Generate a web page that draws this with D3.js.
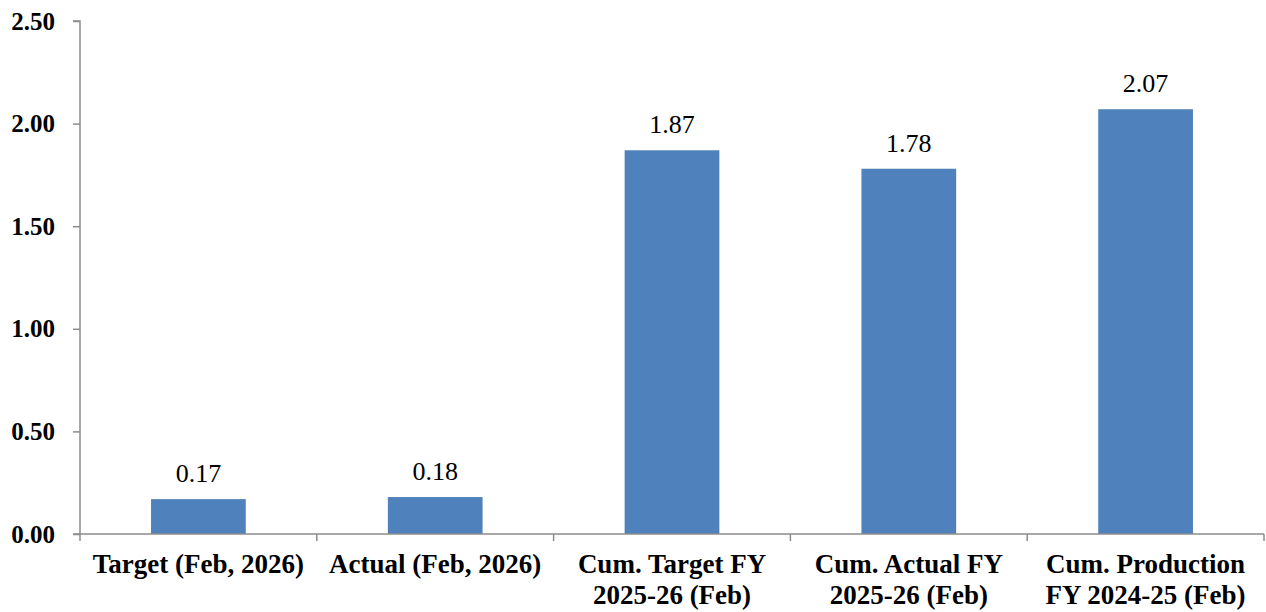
<!DOCTYPE html>
<html>
<head>
<meta charset="utf-8">
<script src="https://cdn.jsdelivr.net/npm/d3@7"></script>
<style>
  body { margin: 0; background: #fff; }
  svg { display: block; }
</style>
</head>
<body>
<div id="chart"></div>
<script>
// chart values
var categories = [
  ["Target (Feb, 2026)"],
  ["Actual (Feb, 2026)"],
  ["Cum. Target FY", "2025-26 (Feb)"],
  ["Cum. Actual FY", "2025-26 (Feb)"],
  ["Cum. Production", "FY 2024-25 (Feb)"]
];
var values = [0.17, 0.18, 1.87, 1.78, 2.07];
var yTicks = [0, 0.5, 1.0, 1.5, 2.0, 2.5];

var svgWidth = 1266, svgHeight = 612;
var margin = { top: 21, right: 2, bottom: 78, left: 80 };
var width = svgWidth - margin.left - margin.right;
var height = svgHeight - margin.top - margin.bottom;

var font = "Liberation Serif";
var axisColor = "#8c8c8c";

var svg = d3.select("#chart").append("svg")
  .attr("width", svgWidth)
  .attr("height", svgHeight)
  .attr("font-family", font);

var g = svg.append("g")
  .attr("transform", "translate(" + margin.left + "," + margin.top + ")");

var x = d3.scaleBand()
  .domain(d3.range(categories.length))
  .range([0, width])
  .paddingInner(0.6)
  .paddingOuter(0.3);

var y = d3.scaleLinear().domain([0, 2.5]).range([height, 0]);

// bars
g.selectAll("rect.bar")
  .data(values)
  .enter().append("rect")
  .attr("class", "bar")
  .attr("x", function(d, i) { return x(i); })
  .attr("y", function(d) { return y(d); })
  .attr("width", x.bandwidth())
  .attr("height", function(d) { return height - y(d); })
  .attr("fill", "#4F81BD");

// value labels
g.selectAll("text.val")
  .data(values)
  .enter().append("text")
  .attr("class", "val")
  .attr("x", function(d, i) { return x(i) + x.bandwidth() / 2; })
  .attr("y", function(d) { return y(d) - 17; })
  .attr("text-anchor", "middle")
  .attr("font-family", font)
  .attr("font-size", 26)
  .text(function(d) { return d.toFixed(2); });

// y axis
var yAxis = g.append("g")
  .call(d3.axisLeft(y).tickValues(yTicks).tickSize(7).tickPadding(18)
    .tickFormat(d3.format(".2f")))
  .attr("font-family", font);
yAxis.select(".domain").attr("stroke", axisColor).attr("stroke-width", 1.5)
  .attr("d", "M-7," + height + "H0V0H-7");
yAxis.selectAll(".tick line").attr("stroke", axisColor).attr("stroke-width", 1.5);
yAxis.selectAll(".tick text")
  .attr("fill", "#000")
  .attr("font-size", 25)
  .attr("font-weight", "bold");

// x axis baseline and separators
var step = x.step();
var xg = g.append("g").attr("transform", "translate(0," + height + ")");
xg.append("line")
  .attr("x1", 0).attr("x2", width)
  .attr("stroke", axisColor).attr("stroke-width", 1.5);
xg.selectAll("line.sep")
  .data(d3.range(categories.length + 1))
  .enter().append("line")
  .attr("class", "sep")
  .attr("x1", function(d) { return d * step; })
  .attr("x2", function(d) { return d * step; })
  .attr("y1", 0).attr("y2", 7)
  .attr("stroke", axisColor).attr("stroke-width", 1.5);

// category labels
var labels = xg.selectAll("text.cat")
  .data(categories)
  .enter().append("text")
  .attr("class", "cat")
  .attr("text-anchor", "middle")
  .attr("font-family", font)
  .attr("font-size", 27)
  .attr("font-weight", "bold")
  .attr("transform", function(d, i) {
    return "translate(" + (x(i) + x.bandwidth() / 2) + ",39)";
  });
labels.selectAll("tspan")
  .data(function(d) { return d; })
  .enter().append("tspan")
  .attr("x", 0)
  .attr("dy", function(d, i) { return i === 0 ? 0 : 31; })
  .text(function(d) { return d; });
</script>
</body>
</html>
